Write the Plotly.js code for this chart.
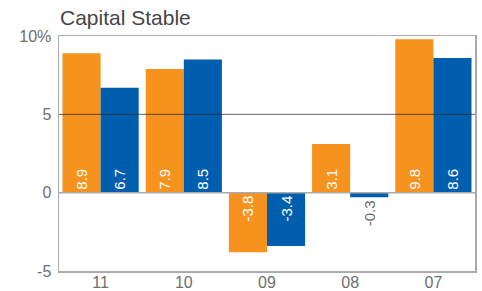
<!DOCTYPE html>
<html><head><meta charset="utf-8">
<script src="https://cdn.plot.ly/plotly-3.0.1.min.js"></script>
<style>html,body{margin:0;padding:0;background:#fff}#c{width:482px;height:291px}</style>
</head><body><div id="c"></div>
<script>
const categories = ["11", "10", "09", "08", "07"];
const seriesA = [8.9, 7.9, -3.8, 3.1, 9.8];
const seriesB = [6.7, 8.5, -3.4, -0.3, 8.6];
const yTickVals = [-5, 0, 5, 10];
const yTickText = ["-5", "0", "5", "10%"];

const orange = "#F6921E", blue = "#005EAF";
const FONT = "Liberation Sans, Arial, sans-serif";
function pos(vals){ return vals.map(v => Math.abs(v) < 1 ? "outside" : "inside"); }
function trace(vals, color){
  return {
    type: "bar", x: categories, y: vals, marker: {color: color, line: {width: 0}},
    text: vals.map(v => v.toFixed(1)), textposition: pos(vals), textangle: -90,
    insidetextanchor: "start", constraintext: "none", cliponaxis: false,
    insidetextfont: {family: FONT, size: 15, color: "#ffffff"},
    outsidetextfont: {family: FONT, size: 15, color: "#6e6e6e"},
    hoverinfo: "none"
  };
}
const data = [trace(seriesA, orange), trace(seriesB, blue)];
const layout = {
  width: 482, height: 291, margin: {l: 59, r: 7, t: 36, b: 20},
  paper_bgcolor: "#ffffff", plot_bgcolor: "#ffffff", showlegend: false,
  barmode: "group", bargap: 0.084, bargroupgap: 0,
  font: {family: FONT, color: "#6e6e6e", size: 16},
  title: {text: "Capital Stable", x: 60/482, xanchor: "left", y: 1 - 18/291, yanchor: "middle",
          font: {size: 21, color: "#464646", family: FONT}},
  xaxis: {type: "category", showgrid: false, zeroline: false, showline: true, mirror: true,
          linecolor: "#aaaaaa", linewidth: 1.5, ticks: "", ticklabelstandoff: -4,
          tickfont: {size: 16, color: "#6e6e6e", family: FONT}},
  yaxis: {range: [-5, 10], tickvals: yTickVals, ticktext: yTickText, showgrid: false,
          zeroline: false, showline: true, mirror: true, linecolor: "#aaaaaa", linewidth: 1.5,
          ticks: "", ticklabelstandoff: 3, tickfont: {size: 16, color: "#6e6e6e", family: FONT}},
  shapes: [
    {type: "line", xref: "paper", x0: 0, x1: 1, yref: "y", y0: 5, y1: 5, layer: "above",
     line: {color: "rgba(40,40,40,0.75)", width: 1}},
    {type: "line", xref: "paper", x0: 0, x1: 1, yref: "y", y0: 0, y1: 0, layer: "above",
     line: {color: "#aaaaaa", width: 1.5}}
  ]
};
Plotly.newPlot("c", data, layout, {displayModeBar: false, staticPlot: true});
</script></body></html>
